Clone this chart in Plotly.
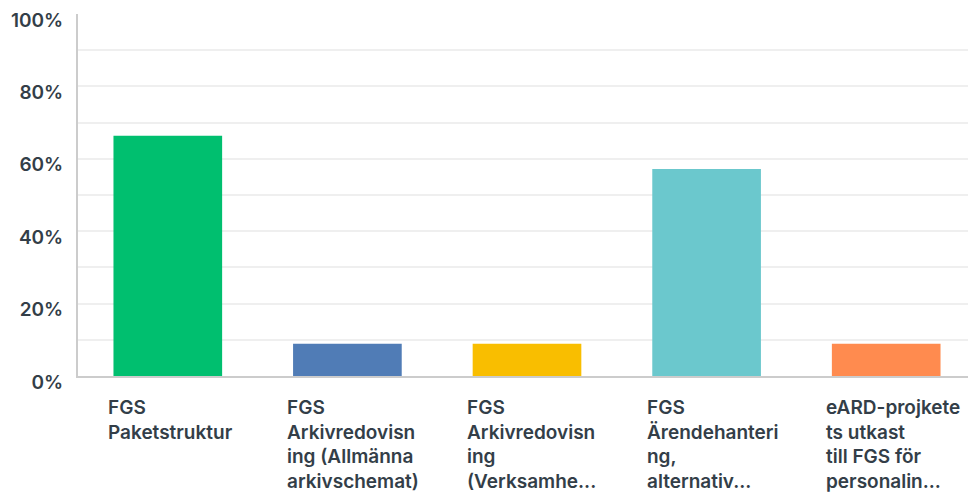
import plotly.graph_objects as go

categories = [
    "FGS<br>Paketstruktur",
    "FGS<br>Arkivredovisn<br>ing (Allmänna<br>arkivschemat)",
    "FGS<br>Arkivredovisn<br>ing<br>(Verksamhe...",
    "FGS<br>Ärendehanteri<br>ng,<br>alternativ...",
    "eARD-projkete<br>ts utkast<br>till FGS för<br>personalin...",
]
values = [66.4, 8.9, 8.9, 57.2, 8.9]
colors = ["#00bf6f", "#507cb6", "#f9be00", "#6bc8cd", "#ff8b4f"]
ytick_vals = [0, 20, 40, 60, 80, 100]
ytick_text = ["0%", "20%", "40%", "60%", "80%", "100%"]

font_family = "Inter"
text_color = "#333e48"

fig = go.Figure()
fig.add_trace(go.Bar(
    x=list(range(len(categories))),
    y=values,
    marker=dict(color=colors, line=dict(width=0)),
    hoverinfo="skip",
))

# left aligned category labels under each bar
for i, label in enumerate(categories):
    fig.add_annotation(
        x=i, y=0, xref="x", yref="paper",
        text=label, showarrow=False,
        xanchor="left", yanchor="top", align="left",
        xshift=-62, yshift=-18,
        font=dict(family=font_family, size=19, color=text_color, weight=600),
    )

# page body has an 8px margin, so the figure is 8px smaller than the window
fig.update_layout(
    width=968,
    height=486,
    margin=dict(l=70, r=0, t=6, b=118, pad=0),
    paper_bgcolor="white",
    plot_bgcolor="white",
    bargap=0.395,
    showlegend=False,
    font=dict(family=font_family, size=18, color=text_color),
)
fig.update_xaxes(
    range=[-0.5, len(categories) - 0.5],
    showticklabels=False,
    showgrid=False,
    showline=True, linecolor="#cccccc", linewidth=2,
    zeroline=False,
)
fig.update_yaxes(
    range=[0, 100],
    tickvals=ytick_vals,
    ticktext=ytick_text,
    ticklabelshift=6,
    ticklabelstandoff=9,
    tickfont=dict(family=font_family, size=19, color=text_color, weight=600),
    showgrid=True, gridcolor="#efefef", gridwidth=2,
    minor=dict(dtick=10, showgrid=True, gridcolor="#efefef", gridwidth=2),
    showline=True, linecolor="#cccccc", linewidth=2,
    zeroline=False,
    automargin=False,
)

fig.write_html("out.html")
